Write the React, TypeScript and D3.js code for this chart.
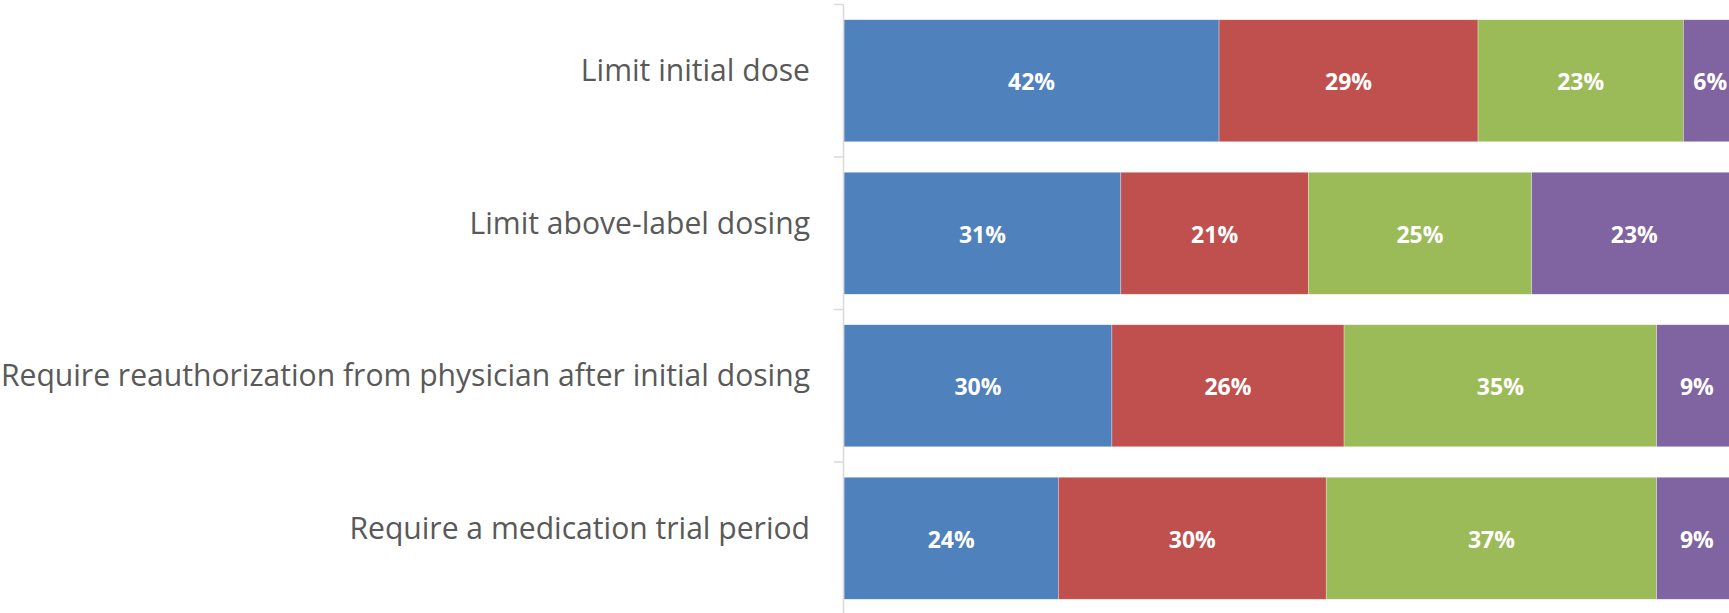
import React from "react";
import * as d3 from "d3";

const categories = [
  "Limit initial dose",
  "Limit above-label dosing",
  "Require reauthorization from physician after initial dosing",
  "Require a medication trial period",
];
const seriesKeys = ["s1", "s2", "s3", "s4"];
const series1 = [42, 31, 30, 24];
const series2 = [29, 21, 26, 30];
const series3 = [23, 25, 35, 37];
const series4 = [6, 23, 9, 9];
const colors = ["#4F81BD", "#C0504D", "#9BBB59", "#8064A2"];

const W = 1729;
const H = 613;

export default function App() {
  const rows = categories.map((c, i) => ({
    cat: c,
    s1: series1[i],
    s2: series2[i],
    s3: series3[i],
    s4: series4[i],
  }));
  const stacked = d3.stack<any>().keys(seriesKeys)(rows);

  const x = d3.scaleLinear().domain([0, 100]).range([844, 1737]);
  const y = d3
    .scaleBand<string>()
    .domain(categories)
    .range([4.5, 614.5])
    .paddingInner(0.2)
    .paddingOuter(0.1);
  const step = y.step();
  const axisX = 843.5;
  const boundaries = categories.map((c) => (y(c) as number) - step * 0.1);
  boundaries.push((y(categories[categories.length - 1]) as number) + y.bandwidth() + step * 0.1);

  return (
    <svg
      width={W}
      height={H}
      style={{ position: "absolute", left: 0, top: 0, overflow: "hidden", background: "#fff" }}
    >
      {stacked.map((layer, si) => (
        <g key={si} fill={colors[si]}>
          {layer.map((d, i) => (
            <rect
              key={i}
              x={x(d[0])}
              y={y(categories[i])}
              width={x(d[1]) - x(d[0])}
              height={y.bandwidth()}
              stroke="#ffffff"
              strokeOpacity={0.5}
              strokeWidth={0.6}
            />
          ))}
        </g>
      ))}
      {stacked.map((layer, si) => (
        <g key={"l" + si}>
          {layer.map((d, i) => (
            <text
              key={i}
              x={(x(d[0]) + x(d[1])) / 2}
              y={(y(categories[i]) as number) + y.bandwidth() / 2 + 9.5}
              textAnchor="middle"
              fill="#ffffff"
              fontFamily="'Open Sans', sans-serif"
              fontWeight={700}
              fontSize={23}
            >
              {`${d[1] - d[0]}%`}
            </text>
          ))}
        </g>
      ))}
      <line x1={axisX} x2={axisX} y1={4.5} y2={H} stroke="#D9D9D9" strokeWidth={1.5} />
      {boundaries.map((b, i) => (
        <line key={i} x1={834} x2={axisX} y1={b} y2={b} stroke="#D9D9D9" strokeWidth={1.5} />
      ))}
      {categories.map((c) => (
        <text
          key={c}
          x={810}
          y={(y(c) as number) + y.bandwidth() / 2 + 0.5}
          textAnchor="end"
          fill="#595959"
          fontFamily="'Open Sans', sans-serif"
          fontSize={30.1}
        >
          {c}
        </text>
      ))}
    </svg>
  );
}
